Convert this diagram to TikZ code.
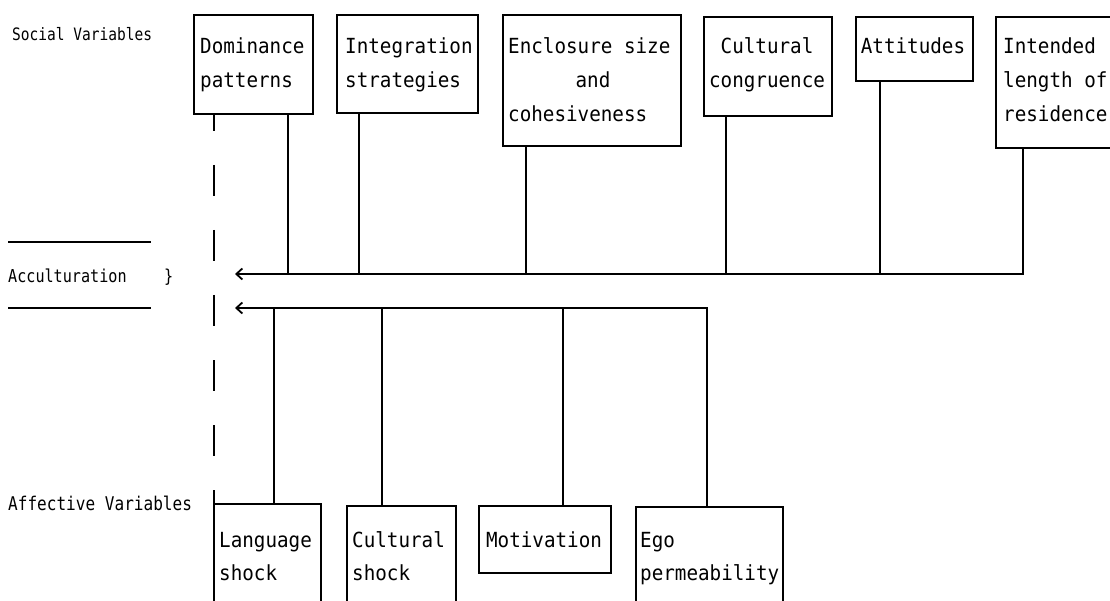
\documentclass[tikz,border=0pt]{standalone}
\usepackage{fontspec}
\newfontfamily\boxfont{DejaVu Sans Mono}[FakeStretch=0.925]
\newfontfamily\sidefont{DejaVu Sans Mono}[FakeStretch=0.85]
\usetikzlibrary{arrows.meta}
\begin{document}
\begin{tikzpicture}[x=1pt,y=-1pt,
  box/.style={draw,line width=2pt,inner sep=0pt,anchor=north west},
  txt/.style={inner sep=0pt,anchor=base west,font=\boxfont\fontsize{20.8}{21}\selectfont},
  ctxt/.style={txt,anchor=base},
  lbl/.style={inner sep=0pt,anchor=base west,font=\sidefont\fontsize{#1}{#1}\selectfont},
  conn/.style={line width=2pt},
  tipL/.style={{Straight Barb[length=6pt,width=11pt,line width=1.8pt]}-}
]
\useasboundingbox (0,0) rectangle (1110,601);
\clip (0,0) rectangle (1110,601);
\fill[white] (0,0) rectangle (1110,601);

% side labels
\node[lbl=17.1] (soc) at (12,41) {Social Variables};
\node[lbl=17.8] (acc) at (8,283) {Acculturation};
\node[lbl=17.8] (brace) at (164,283) {\}};
\node[lbl=18.9] (aff) at (8,510) {Affective Variables};
\draw[line width=1.8pt] (8,242) -- (151,242);
\draw[line width=1.8pt] (8,308) -- (151,308);

% social variable boxes
\node[box,minimum width=119pt,minimum height=99pt] (dom) at (193,14) {};
\node[box,minimum width=141pt,minimum height=98pt] (int) at (336,14) {};
\node[box,minimum width=178pt,minimum height=131pt] (enc) at (502,14) {};
\node[box,minimum width=128pt,minimum height=99pt] (cc) at (703,16) {};
\node[box,minimum width=117pt,minimum height=64pt] (att) at (855,16) {};
\node[box,minimum width=140pt,minimum height=131pt] (ien) at (995,16) {};

\node[txt] (dom1) at (200,54) {Dominance};
\node[txt] (dom2) at (200,88) {patterns};
\node[txt] (int1) at (345,54) {Integration};
\node[txt] (int2) at (345,88) {strategies};
\node[txt] (enc1) at (508,54) {Enclosure size};
\node[ctxt] (enc2) at (593,88) {and};
\node[txt] (enc3) at (508,122) {cohesiveness};
\node[ctxt] (cc1) at (767,54) {Cultural};
\node[ctxt] (cc2) at (767,88) {congruence};
\node[ctxt] (att1) at (913,54) {Attitudes};
\node[txt] (ien1) at (1003,54) {Intended};
\node[txt] (ien2) at (1003,88) {length of};
\node[txt] (ien3) at (1003,122) {residence};

% affective variable boxes
\node[box,minimum width=107pt,minimum height=130pt] (lang) at (213,503) {};
\node[box,minimum width=109pt,minimum height=130pt] (csh) at (346,505) {};
\node[box,minimum width=132pt,minimum height=67pt] (mot) at (478,505) {};
\node[box,minimum width=147pt,minimum height=130pt] (ego) at (635,506) {};

\node[txt] (lang1) at (219,547) {Language};
\node[txt] (lang2) at (219,580) {shock};
\node[txt] (csh1) at (352,547) {Cultural};
\node[txt] (csh2) at (352,580) {shock};
\node[ctxt] (mot1) at (544,547) {Motivation};
\node[txt] (ego1) at (640,547) {Ego};
\node[txt] (ego2) at (640,580) {permeability};

% connector columns and arrow ends
\coordinate (accU) at (235,274);
\coordinate (accL) at (235,308);
\coordinate (xdash) at (214,0);
\coordinate (xdom) at (288,0);
\coordinate (xint) at (359,0);
\coordinate (xenc) at (526,0);
\coordinate (xcc) at (726,0);
\coordinate (xatt) at (880,0);
\coordinate (xien) at (1023,0);
\coordinate (xlang) at (274,0);
\coordinate (xcsh) at (382,0);
\coordinate (xmot) at (563,0);
\coordinate (xego) at (707,0);

% dashed separator
\draw[conn,dash pattern=on 31pt off 34pt,dash phase=15pt]
  (xdash |- dom.south) -- (xdash |- lang.north);

% social variables into acculturation
\draw[conn,tipL] (accU) -- (accU -| xien) -- (xien |- ien.south);
\foreach \b/\x in {dom/xdom,int/xint,enc/xenc,cc/xcc,att/xatt}
  \draw[conn] (\x |- \b.south) -- (\x |- accU);

% affective variables into acculturation
\draw[conn,tipL] (accL) -- (accL -| xego) -- (xego |- ego.north);
\foreach \b/\x in {lang/xlang,csh/xcsh,mot/xmot}
  \draw[conn] (\x |- \b.north) -- (\x |- accL);
\end{tikzpicture}
\end{document}
